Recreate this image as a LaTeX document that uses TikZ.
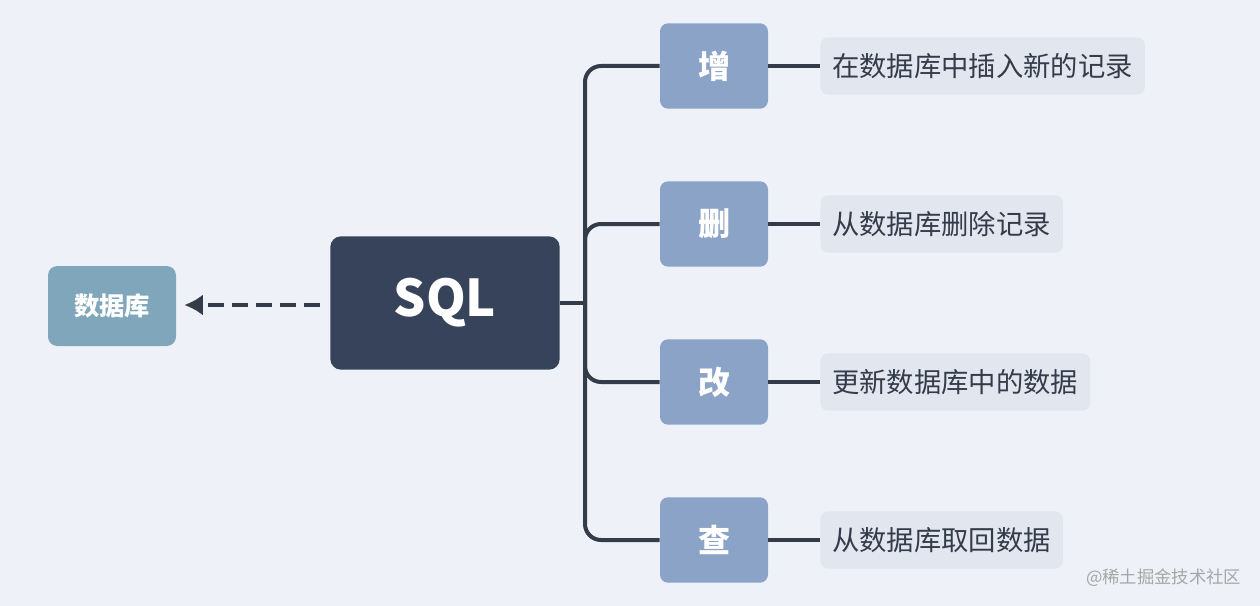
\documentclass[tikz,border=0pt]{standalone}
\usepackage{fontspec}
\setmainfont{Noto Sans CJK SC}
\usetikzlibrary{positioning,arrows.meta}
\definecolor{bgc}{RGB}{238,242,248}
\definecolor{dark}{RGB}{54,67,90}
\definecolor{leaf}{RGB}{139,163,198}
\definecolor{dbc}{RGB}{127,166,186}
\definecolor{note}{RGB}{226,231,239}
\definecolor{ink}{RGB}{52,60,74}
\tikzset{
  op/.style={fill=leaf, rounded corners=6pt, minimum width=81pt, minimum height=64pt, text=white, font=\fontsize{24}{28}\selectfont\bfseries},
  desc/.style={fill=note, rounded corners=6pt, minimum height=43pt, inner xsep=9pt, anchor=west, text=ink, font=\fontsize{20.5}{24}\selectfont},
  link/.style={line width=3pt, draw=ink}
}
\begin{document}
\begin{tikzpicture}[x=0.75pt,y=-0.75pt]
\useasboundingbox[fill=bgc] (0,0) rectangle (1260,606);
\node [fill=dark, rounded corners=8pt, minimum width=172pt, minimum height=100pt, text=white, font=\fontsize{38}{44}\selectfont\bfseries] (sql) at (445,303) {SQL};
\node [fill=dbc, rounded corners=7pt, minimum width=96pt, minimum height=60pt, text=white, font=\fontsize{19}{22}\selectfont\bfseries] (db) at (112,306) {数据库};
\coordinate (dstart) at (320,305);
\draw [link, dash pattern=on 12pt off 6pt, -{Latex[length=14pt,width=16pt]}, shorten >=6pt] (dstart) -- (db.east |- dstart);
\coordinate (fork) at (585,303);
\draw [link] (sql.east) -- (fork);
\node [op] (add) at (714,66) {增};
\node [op] (del) at (714,224) {删};
\node [op] (upd) at (714,382) {改};
\node [op] (qry) at (714,540) {查};
\draw [link, rounded corners=12pt] (add.west) -| (fork) |- (qry.west);
\draw [link, rounded corners=12pt] (fork) |- (del.west);
\draw [link, rounded corners=12pt] (fork) |- (upd.west);
\node [desc] (tadd) at (820,66) {在数据库中插入新的记录};
\node [desc] (tdel) at (820,224) {从数据库删除记录};
\node [desc] (tupd) at (820,382) {更新数据库中的数据};
\node [desc] (tqry) at (820,540) {从数据库取回数据};
\foreach \a/\b in {add/tadd,del/tdel,upd/tupd,qry/tqry}
  \draw [link] (\a.east) -- (\b.west);
\node [anchor=east, text=gray!70, font=\fontsize{13}{15}\selectfont] (mark) at (1246,578) {@稀土掘金技术社区};
\end{tikzpicture}
\end{document}
